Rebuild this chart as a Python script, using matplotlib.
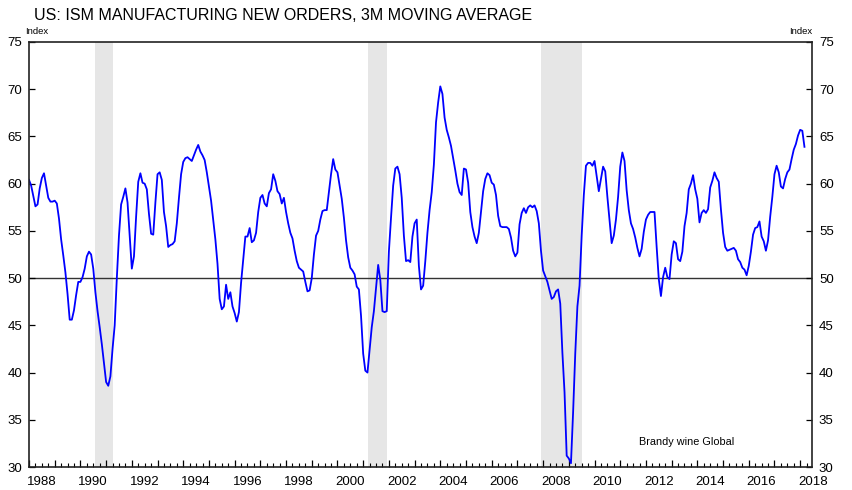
import matplotlib
matplotlib.use('Agg')
import matplotlib.pyplot as plt
import matplotlib.transforms as mtransforms
import numpy as np

# ISM manufacturing new orders, 3m moving average, monthly from Jan 1988
start_year = 1988
new_orders = [
    60.4, 59.8, 58.7, 57.6, 57.8, 59.5, 60.6, 61.1, 59.8, 58.5, 58.1, 58.1,  # 1988
    58.2, 57.9, 56.3, 54.1, 52.4, 50.6, 48.3, 45.6, 45.6, 46.6, 48.2, 49.6,  # 1989
    49.6, 50.1, 51.0, 52.3, 52.8, 52.5, 51.0, 48.5, 46.5, 44.8, 43.0, 41.0,  # 1990
    39.0, 38.6, 39.6, 42.5, 45.0, 50.0, 54.5, 57.8, 58.6, 59.5, 58.0, 54.5,  # 1991
    51.0, 52.3, 56.5, 60.2, 61.1, 60.1, 60.0, 59.4, 56.8, 54.7, 54.6, 58.0,  # 1992
    61.0, 61.2, 60.4, 57.0, 55.5, 53.3, 53.5, 53.6, 53.9, 55.8, 58.5, 61.0,  # 1993
    62.3, 62.7, 62.8, 62.6, 62.4, 63.0, 63.6, 64.1, 63.4, 63.0, 62.5, 61.2,  # 1994
    59.7, 58.2, 56.2, 54.1, 51.5, 47.8, 46.7, 47.0, 49.3, 47.8, 48.5, 47.0,  # 1995
    46.3, 45.4, 46.4, 49.5, 52.0, 54.4, 54.4, 55.3, 53.8, 54.0, 54.8, 57.0,  # 1996
    58.5, 58.8, 57.9, 57.6, 59.0, 59.4, 61.0, 60.3, 59.2, 58.9, 57.9, 58.5,  # 1997
    57.0, 55.8, 54.8, 54.2, 52.9, 51.8, 51.1, 50.9, 50.7, 49.6, 48.6, 48.7,  # 1998
    50.0, 52.5, 54.5, 55.0, 56.2, 57.1, 57.2, 57.2, 59.1, 61.0, 62.6, 61.5,  # 1999
    61.2, 59.8, 58.4, 56.4, 54.0, 52.2, 51.1, 50.8, 50.4, 49.1, 48.8, 46.0,  # 2000
    42.0, 40.2, 40.0, 42.4, 44.8, 46.5, 49.0, 51.4, 49.8, 46.5, 46.4, 46.5,  # 2001
    52.8, 56.4, 59.8, 61.6, 61.8, 61.0, 58.5, 54.5, 51.8, 51.9, 51.7, 54.4,  # 2002
    55.8, 56.2, 51.3, 48.8, 49.2, 51.8, 54.8, 57.2, 59.1, 62.0, 66.5, 68.6,  # 2003
    70.3, 69.5, 67.0, 65.7, 64.9, 64.0, 62.7, 61.4, 60.0, 59.1, 58.8, 61.6,  # 2004
    61.5, 60.1, 57.0, 55.4, 54.4, 53.7, 54.8, 57.0, 59.2, 60.5, 61.1, 60.9,  # 2005
    60.1, 59.9, 58.8, 56.6, 55.5, 55.4, 55.4, 55.4, 55.2, 54.3, 52.9, 52.3,  # 2006
    52.7, 55.7, 56.9, 57.4, 56.9, 57.5, 57.7, 57.5, 57.7, 57.1, 55.8, 52.9,  # 2007
    50.8, 50.2, 49.6, 48.7, 47.8, 48.0, 48.6, 48.8, 47.3, 42.1, 37.9, 31.2,  # 2008
    30.9, 30.4, 35.8, 42.0, 47.0, 49.2, 54.5, 58.8, 61.9, 62.2, 62.2, 61.9,  # 2009
    62.4, 60.8, 59.2, 60.5, 61.8, 61.3, 58.6, 56.2, 53.7, 54.5, 56.2, 58.6,  # 2010
    61.8, 63.3, 62.4, 59.3, 57.2, 55.8, 55.2, 54.3, 53.2, 52.3, 53.1, 54.9,  # 2011
    56.2, 56.7, 57.0, 57.0, 57.0, 53.3, 49.9, 48.1, 50.1, 51.1, 50.1, 49.9,  # 2012
    52.5, 53.9, 53.7, 52.0, 51.8, 52.8, 55.5, 56.9, 59.4, 60.0, 60.9, 59.4,  # 2013
    58.4, 55.9, 56.9, 57.2, 56.9, 57.3, 59.6, 60.3, 61.2, 60.6, 60.2, 57.3,  # 2014
    54.8, 53.3, 52.9, 53.0, 53.1, 53.2, 52.9, 52.0, 51.7, 51.1, 50.9, 50.3,  # 2015
    51.3, 52.8, 54.6, 55.3, 55.4, 56.0, 54.4, 53.9, 52.9, 54.0, 56.5, 58.6,  # 2016
    61.0, 61.9, 61.2, 59.7, 59.5, 60.5, 61.2, 61.5, 62.6, 63.6, 64.2, 65.1,  # 2017
    65.7, 65.6, 63.9,                                                        # 2018
]

# NBER recessions (start, end) in decimal years
recessions = [(1990.55, 1991.25), (2001.2, 2001.92), (2007.92, 2009.5)]

year_labels = list(range(1988, 2019, 2))
y_ticks = list(range(30, 80, 5))

plt.rcParams['font.family'] = ['Liberation Sans', 'DejaVu Sans']

dates = start_year + np.arange(len(new_orders)) / 12.0

fig = plt.figure(figsize=(8.52, 4.90), dpi=100)
ax = fig.add_axes([29/852, 1 - 467/490, 783/852, 425/490])

for r0, r1 in recessions:
    ax.axvspan(r0, r1, color='#e6e6e6', lw=0, zorder=0)

ax.axhline(50, color='#333333', lw=1.0, zorder=1)
ax.plot(dates, new_orders, color='#0000ff', lw=1.3, zorder=2)

ax.set_xlim(1988, 2018.46)
ax.set_ylim(30, 75)

# x ticks: years (major) and quarters (minor), labels centred on the year
ax.set_xticks(np.arange(1988, 2019, 1))
ax.set_xticks(np.arange(1988, 2018.5, 0.25), minor=True)
ax.set_xticklabels([])
ax.tick_params(axis='x', which='major', direction='in', length=5, width=0.9, top=False)
ax.tick_params(axis='x', which='minor', direction='in', length=3, width=0.8, top=False)
trans = mtransforms.blended_transform_factory(ax.transData, ax.transAxes)
for yr in year_labels:
    ax.text(yr + 0.5, -0.022, str(yr), transform=trans, ha='center', va='top', fontsize=9.5)

# y ticks on both sides
ax.set_yticks(y_ticks)
ax.tick_params(axis='y', which='major', direction='in', length=4, width=0.9,
               left=True, right=True, labelleft=True, labelright=True,
               labelsize=9.5, pad=5)

for s in ax.spines.values():
    s.set_linewidth(1.2)
    s.set_color('#222222')

fig.text(34/852, 1 - 15/490, 'US: ISM MANUFACTURING NEW ORDERS, 3M MOVING AVERAGE',
         fontsize=11.5, va='center', ha='left')
fig.text(25/852, 1 - 31/490, 'Index', fontsize=6.8, va='center', ha='left')
fig.text(812/852, 1 - 32/490, 'Index', fontsize=6.8, va='center', ha='right')
ax.text(0.84, 0.059, 'Brandy wine Global', transform=ax.transAxes,
        fontsize=7.8, ha='center', va='center')

fig.savefig('out.png', dpi=100)
